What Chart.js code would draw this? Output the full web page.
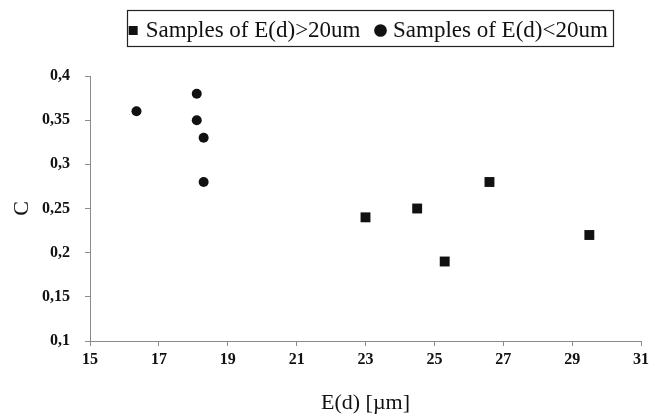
<!DOCTYPE html>
<html lang="en">
<head>
  <meta charset="UTF-8">
  <title>C vs E(d)</title>
  <script src="https://cdn.jsdelivr.net/npm/chart.js"></script>
  <style>
    html, body { margin: 0; padding: 0; background: #fff; }
    #wrap { width: 655px; height: 420px; }
  </style>
</head>
<body>
  <div id="wrap"><canvas id="cChart" width="655" height="420"></canvas></div>

  <script>
    // samples with E(d) > 20 um
    const bigX = [23.0, 24.5, 25.3, 26.6, 29.5];
    const bigC = [0.24, 0.25, 0.19, 0.28, 0.22];
    // samples with E(d) < 20 um
    const smallX = [16.35, 18.1, 18.1, 18.3, 18.3];
    const smallC = [0.36, 0.38, 0.35, 0.33, 0.28];

    const xTicks = [15, 17, 19, 21, 23, 25, 27, 29, 31];
    const yTicks = [0.1, 0.15, 0.2, 0.25, 0.3, 0.35, 0.4];

    const ink = '#111';
    const axisGray = '#8a8a8a';
    const serif = "'Liberation Serif', 'DejaVu Serif', serif";

    const toPoints = (xs, ys) => xs.map((x, i) => ({ x: x, y: ys[i] }));
    const comma = v => String(Math.round(v * 100) / 100).replace('.', ',');

    // move the legend to its place and put a frame round it
    const legendFrame = {
      id: 'legendFrame',
      afterLayout(chart) {
        const lg = chart.legend;
        const shift = 370 - (lg.left + lg.right) / 2;
        lg.left += shift;
        lg.right += shift;
        lg.top -= 24;
        lg.bottom -= 24;
      },
      afterDraw(chart) {
        const lg = chart.legend;
        const pad = lg.options.labels.padding;
        const w = lg.lineWidths[0];
        const rowStart = (lg.left + pad + lg.right - w) / 2;
        const rowEnd = rowStart + w - pad;
        const ctx = chart.ctx;
        ctx.save();
        ctx.strokeStyle = '#222';
        ctx.lineWidth = 1.2;
        ctx.strokeRect(Math.round(rowStart) - 4.5, 10.5, Math.round(rowEnd - rowStart) + 10, 36);
        ctx.restore();
      }
    };

    new Chart(document.getElementById('cChart'), {
      type: 'scatter',
      data: {
        datasets: [
          {
            label: 'Samples of E(d)>20um',
            data: toPoints(bigX, bigC),
            pointStyle: 'rect',
            pointRadius: 7,
            backgroundColor: ink,
            borderColor: ink,
            borderWidth: 0
          },
          {
            label: 'Samples of E(d)<20um',
            data: toPoints(smallX, smallC),
            pointStyle: 'circle',
            pointRadius: 5,
            backgroundColor: ink,
            borderColor: ink,
            borderWidth: 0
          }
        ]
      },
      options: {
        responsive: false,
        animation: false,
        layout: { padding: { left: 0, right: 14, top: 24, bottom: 0 } },
        plugins: {
          legend: {
            display: true,
            position: 'top',
            labels: {
              usePointStyle: true,
              boxWidth: 2,
              boxHeight: 9,
              padding: 19,
              color: ink,
              font: { family: serif, size: 23 }
            }
          },
          tooltip: { enabled: false }
        },
        scales: {
          x: {
            type: 'linear',
            min: 15,
            max: 31,
            afterBuildTicks: s => { s.ticks = xTicks.map(v => ({ value: v })); },
            afterFit: s => { s.height = 79; },
            grid: { drawOnChartArea: false, drawTicks: true, tickLength: 5, color: axisGray },
            border: { color: axisGray, width: 1 },
            ticks: { color: ink, font: { family: serif, size: 16, weight: 'bold' }, padding: 4 },
            title: {
              display: true,
              text: 'E(d) [µm]',
              color: ink,
              font: { family: serif, size: 22 },
              padding: { top: 4, bottom: 4 }
            }
          },
          y: {
            type: 'linear',
            min: 0.1,
            max: 0.4,
            afterBuildTicks: s => { s.ticks = yTicks.map(v => ({ value: v })); },
            afterFit: s => { s.width = 90; },
            grid: { drawOnChartArea: false, drawTicks: true, tickLength: 5, color: axisGray },
            border: { color: axisGray, width: 1 },
            ticks: {
              color: ink,
              font: { family: serif, size: 16, weight: 'bold' },
              padding: 15,
              callback: v => comma(v)
            },
            title: {
              display: true,
              text: 'C',
              color: ink,
              font: { family: serif, size: 22 },
              padding: { top: 9, bottom: 4 }
            }
          }
        }
      },
      plugins: [legendFrame]
    });
  </script>
</body>
</html>
